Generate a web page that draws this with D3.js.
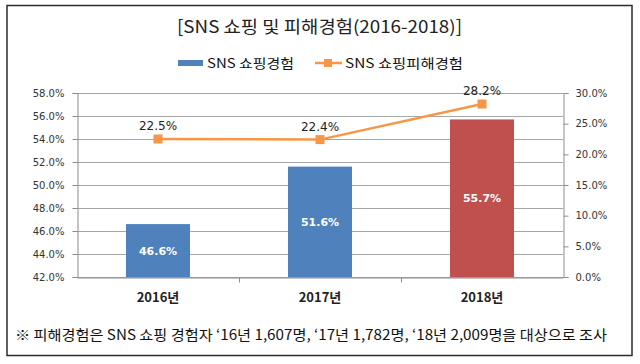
<!DOCTYPE html>
<html><head><meta charset="utf-8">
<script src="https://cdn.jsdelivr.net/npm/d3@7"></script>
<style>html,body{margin:0;padding:0;background:#fff;}svg{display:block;}</style>
</head><body>
<script>
const years = ["2016년", "2017년", "2018년"];
const shopping = [0.466, 0.516, 0.557];
const damage = [0.225, 0.224, 0.282];
const barColors = ["#4F81BD", "#4F81BD", "#C0504D"];
const leftTicks = [0.42, 0.44, 0.46, 0.48, 0.50, 0.52, 0.54, 0.56, 0.58];
const rightTicks = [0, 0.05, 0.10, 0.15, 0.20, 0.25, 0.30];
const titleText = "[SNS 쇼핑 및 피해경험(2016-2018)]";
const legendNames = ["SNS 쇼핑경험", "SNS 쇼핑피해경험"];
const noteText = "※ 피해경험은 SNS 쇼핑 경험자 ‘16년 1,607명, ‘17년 1,782명, ‘18년 2,009명을 대상으로 조사";

const W = 640, H = 364;
const svg = d3.select("body").append("svg").attr("width", W).attr("height", H);
svg.append("rect").attr("width", W).attr("height", H).attr("fill", "#fff");
// frame
svg.append("rect").attr("x", 7).attr("y", 5.5).attr("width", 625).attr("height", 350)
  .attr("fill", "none").attr("stroke", "#2b2b2b").attr("stroke-width", 1.5);

const L = 77, R = 563, T = 93, B = 277;
const x = d3.scaleBand().domain(years).range([L, R]).padding(0);
const yL = d3.scaleLinear().domain([0.42, 0.58]).range([B, T]);
const yR = d3.scaleLinear().domain([0, 0.30]).range([B, T]);
const fmt = d3.format(".1%");
const KR = "'Noto Sans CJK KR', sans-serif";
const DJ = "'DejaVu Sans', Verdana, sans-serif";

// title
svg.append("text").attr("x", 177).attr("y", 33).attr("font-family", KR).attr("font-size", 17)
  .attr("fill", "#222").attr("textLength", 285).attr("lengthAdjust", "spacingAndGlyphs").text(titleText);

// legend
const lg = svg.append("g");
lg.append("rect").attr("x", 178).attr("y", 60).attr("width", 25).attr("height", 6).attr("fill", barColors[0]);
lg.append("text").attr("x", 207).attr("y", 68).attr("font-family", KR).attr("font-size", 13)
  .attr("fill", "#111").attr("textLength", 87).attr("lengthAdjust", "spacingAndGlyphs").text(legendNames[0]);
lg.append("line").attr("x1", 315).attr("x2", 342).attr("y1", 63).attr("y2", 63)
  .attr("stroke", "#F79646").attr("stroke-width", 2.5);
lg.append("rect").attr("x", 324).attr("y", 59).attr("width", 8).attr("height", 8).attr("fill", "#F79646");
lg.append("text").attr("x", 345).attr("y", 68).attr("font-family", KR).attr("font-size", 13)
  .attr("fill", "#111").attr("textLength", 118).attr("lengthAdjust", "spacingAndGlyphs").text(legendNames[1]);

// gridlines
svg.append("g").selectAll("line").data(leftTicks).join("line")
  .attr("x1", L).attr("x2", R).attr("y1", d => Math.round(yL(d)) + 0.5).attr("y2", d => Math.round(yL(d)) + 0.5)
  .attr("stroke", "#a6a6a6").attr("stroke-width", 1);

// left axis
const gl = svg.append("g").attr("transform", `translate(${L + 0.5},0)`)
  .call(d3.axisLeft(yL).tickValues(leftTicks).tickFormat(fmt).tickSize(5).tickPadding(8));
// right axis
const gr = svg.append("g").attr("transform", `translate(${R + 0.5},0)`)
  .call(d3.axisRight(yR).tickValues(rightTicks).tickFormat(fmt).tickSize(5).tickPadding(7));
// bottom axis with category boundary ticks
const gb = svg.append("g").attr("transform", `translate(0,${B + 0.5})`)
  .call(d3.axisBottom(x).tickSize(0).tickFormat(""));
gb.selectAll(".tick").remove();
gb.append("g").selectAll("line").data(years.slice(1)).join("line")
  .attr("x1", d => Math.round(x(d)) + 0.5).attr("x2", d => Math.round(x(d)) + 0.5)
  .attr("y1", 0).attr("y2", 5).attr("stroke", "#8c8c8c");
[gl, gr, gb].forEach(g => {
  g.select(".domain").attr("stroke", "#8c8c8c");
  g.selectAll(".tick line").attr("stroke", "#8c8c8c");
  g.selectAll(".tick text").attr("font-family", DJ).attr("font-size", 10).attr("fill", "#333");
});

// bars
const bw = x.bandwidth() * 0.395;
svg.append("g").selectAll("rect").data(shopping).join("rect")
  .attr("x", (d, i) => x(years[i]) + (x.bandwidth() - bw) / 2)
  .attr("width", bw)
  .attr("y", d => yL(d))
  .attr("height", d => B - yL(d))
  .attr("fill", (d, i) => barColors[i]);
svg.append("g").selectAll("text").data(shopping).join("text")
  .attr("x", (d, i) => x(years[i]) + x.bandwidth() / 2)
  .attr("y", d => (yL(d) + B) / 2 + 1)
  .attr("text-anchor", "middle").attr("dominant-baseline", "middle")
  .attr("font-family", DJ).attr("font-weight", "bold").attr("font-size", 11).attr("fill", "#fff")
  .text(d => fmt(d));

// line
const line = d3.line().x((d, i) => x(years[i]) + x.bandwidth() / 2).y(d => yR(d));
svg.append("path").datum(damage).attr("d", line).attr("fill", "none")
  .attr("stroke", "#F79646").attr("stroke-width", 2.5);
svg.append("g").selectAll("rect").data(damage).join("rect")
  .attr("x", (d, i) => x(years[i]) + x.bandwidth() / 2 - 4.5)
  .attr("y", d => yR(d) - 4.5).attr("width", 9).attr("height", 9).attr("fill", "#F79646");
svg.append("g").selectAll("text").data(damage).join("text")
  .attr("x", (d, i) => x(years[i]) + x.bandwidth() / 2)
  .attr("y", d => yR(d) - 9)
  .attr("text-anchor", "middle")
  .attr("font-family", DJ).attr("font-size", 12).attr("fill", "#222")
  .text(d => fmt(d));

// category labels
svg.append("g").selectAll("text").data(years).join("text")
  .attr("x", d => x(d) + x.bandwidth() / 2).attr("y", 302)
  .attr("text-anchor", "middle").attr("font-family", KR).attr("font-weight", "bold")
  .attr("font-size", 13).attr("fill", "#222").text(d => d);

// footnote
svg.append("text").attr("x", 15).attr("y", 340).attr("font-family", KR).attr("font-size", 14)
  .attr("fill", "#111").attr("textLength", 592).attr("lengthAdjust", "spacingAndGlyphs").text(noteText);
</script>
</body></html>
